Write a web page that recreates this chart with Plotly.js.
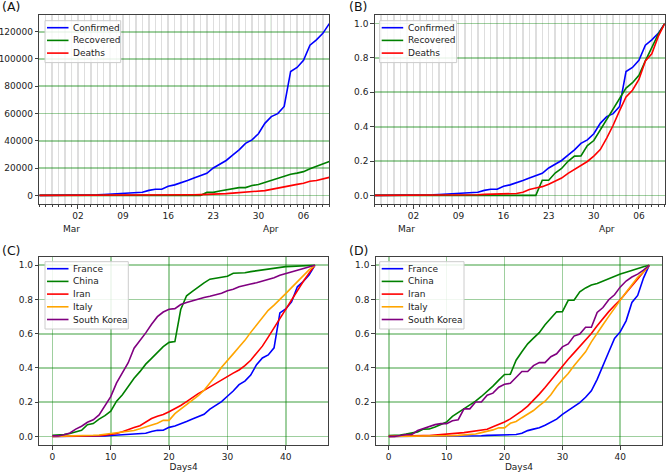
<!DOCTYPE html>
<html><head><meta charset="utf-8">
<script src="https://cdn.plot.ly/plotly-3.0.1.min.js"></script>
<style>html,body{margin:0;padding:0;background:#fff}#chart{width:667px;height:473px}</style>
</head><body><div id="chart"></div>
<script>
// ---------- data ----------
const startDate = '2020-02-25';           // France series, panels A/B
const seriesNames = ['Confirmed', 'Recovered', 'Deaths'];
const franceConfirmed = [14,18,38,57,100,130,191,204,288,380,656,959,1136,1219,1794,2293,2293,3681,4496,4532,6683,7715,9124,10970,12758,14463,16243,20123,22622,25600,29551,33402,38105,40708,45170,52827,57749,59929,65202,90848,93773,98963,110065,113959,118781,125931];
const franceRecovered = [11,11,11,11,12,12,12,12,12,12,12,12,12,12,12,12,12,12,12,12,12,12,12,12,12,12,2200,2207,3250,3907,4955,5707,5724,7226,7964,9513,11053,12548,14135,15572,16349,17428,19523,21452,23413,24932];
const franceDeaths = [2,2,2,2,2,2,3,4,4,6,9,11,19,19,33,48,48,79,91,91,148,148,148,243,450,562,674,860,1100,1331,1696,1995,2314,2606,3024,3523,4403,5387,6507,7560,8078,8911,10328,10869,12210,13197];

const countryNames = ['France', 'China', 'Iran', 'Italy', 'South Korea'];
const chinaConfirmed = [548,643,920,1406,2075,2877,5509,6087,8141,9802,11891,16630,19716,23707,27440,30587,34110,36814,39829,42354,44386,44759,59895,66358,68413,70513,72434,74211,74619,75077,75550,77001,77022,77241,77754,78166,78600,78928,79356,79932,80136,80261,80386,80537,80690,80770];
const chinaDeaths = [17,18,26,42,56,82,131,133,171,213,259,361,425,490,562,632,717,804,904,1011,1111,1116,1368,1520,1662,1765,1863,2004,2118,2236,2238,2443,2445,2595,2665,2717,2746,2790,2837,2872,2914,2947,2983,3015,3044,3072];
const iranConfirmed = [2,5,18,28,43,61,95,139,245,388,593,978,1501,2336,2922,3513,4747,5823,6566,7161,8042,9000,10075,11364,12729,13938,14991,16169,17361,18407,19644,20610,21638,23049,24811,27017,29406,32332,35408,38309,41495,44605,47593,50468,53183,55743];
const iranDeaths = [2,2,4,5,8,12,16,19,26,34,43,54,66,77,92,107,124,145,194,237,291,354,429,514,611,724,853,988,1135,1284,1433,1556,1685,1812,1934,2077,2234,2378,2517,2640,2757,2898,3036,3160,3294,3452];
const italyConfirmed = [20,62,155,229,322,453,655,888,1128,1694,2036,2502,3089,3858,4636,5883,7375,9172,10149,12462,12462,17660,21157,24747,27980,31506,35713,41035,47021,53578,59138,63927,69176,74386,80589,86498,92472,97689,101739,105792,110574,115242,119827,124632,128948,132547];
const italyDeaths = [1,2,3,7,10,12,17,21,29,34,52,79,107,148,197,233,366,463,631,827,827,1266,1441,1809,2158,2503,2978,3405,4032,4825,5476,6077,6820,7503,8165,9134,10023,10779,11591,12428,13155,13915,14681,15362,15887,16523];
const koreaConfirmed = [31,31,104,204,433,602,833,977,1261,1766,2337,3150,3736,4335,5186,5621,6088,6593,7041,7314,7478,7513,7755,7869,7979,8086,8162,8236,8320,8413,8565,8652,8799,8897,8961,9037,9137,9241,9332,9478,9583,9661,9786,9887,9976,10062];
const koreaDeaths = [0,0,1,2,2,6,8,10,12,13,13,16,17,28,28,35,35,42,44,50,53,54,60,66,66,72,75,75,81,84,91,94,102,104,111,111,126,131,139,144,152,158,162,165,169,174];

const weekTickVals = ['2020-03-02','2020-03-09','2020-03-16','2020-03-23','2020-03-30','2020-04-06'];
const weekTickText = ['02','09','16','23','30','06'];
const monthTickVals = ['2020-03-01','2020-04-01'];
const monthTickText = ['Mar','Apr'];
const countTickVals = [0,20000,40000,60000,80000,100000,120000];
const fracTickVals = [0,0.2,0.4,0.6,0.8,1.0];
const dayTickVals = [0,10,20,30,40];
const panelLabels = ['(A)','(B)','(C)','(D)'];
const xTitle = 'Days4';

// ---------- helpers ----------
const W = 667, H = 473;
const PX = x => x / W, PY = y => 1 - y / H;
function dateList(start, n){
  const out = []; const d0 = new Date(start + 'T00:00:00Z');
  for (let i = 0; i < n; i++){ const d = new Date(d0.getTime() + i*86400000); out.push(d.toISOString().slice(0,10)); }
  return out;
}
const norm = a => { const m = Math.max(...a); return a.map(v => v / m); };
const dates = dateList(startDate, franceConfirmed.length);
const days = franceConfirmed.map((_, i) => i);

const sColors = ['#0000ff', '#008000', '#ff0000'];
const cColors = ['#0000ff', '#008000', '#ff0000', '#ffa500', '#800080'];
const LW = 1.6;
const FONT = 'DejaVu Sans, sans-serif';
const FS = 9;
const gridGreen = 'rgba(0,128,0,0.38)';
const frameCol = '#404040';
const minorGray = '#dedede';

const franceSeries = [franceConfirmed, franceRecovered, franceDeaths];
const confirmedByCountry = [franceConfirmed, chinaConfirmed, iranConfirmed, italyConfirmed, koreaConfirmed];
const deathsByCountry = [franceDeaths, chinaDeaths, iranDeaths, italyDeaths, koreaDeaths];

const traces = [];
franceSeries.forEach((s, i) => traces.push({x: dates, y: s, xaxis: 'x', yaxis: 'y', mode: 'lines', line: {color: sColors[i], width: LW}, name: seriesNames[i], showlegend: false}));
franceSeries.forEach((s, i) => traces.push({x: dates, y: norm(s), xaxis: 'x2', yaxis: 'y2', mode: 'lines', line: {color: sColors[i], width: LW}, name: seriesNames[i], showlegend: false}));
confirmedByCountry.forEach((s, i) => traces.push({x: days, y: norm(s), xaxis: 'x3', yaxis: 'y3', mode: 'lines', line: {color: cColors[i], width: LW}, name: countryNames[i], showlegend: false}));
deathsByCountry.forEach((s, i) => traces.push({x: days, y: norm(s), xaxis: 'x4', yaxis: 'y4', mode: 'lines', line: {color: cColors[i], width: LW}, name: countryNames[i], showlegend: false}));

// domains in pixels
const dom = {
  A: {x: [39.3, 329.3], y: [15, 204]},
  B: {x: [374.7, 664.7], y: [15, 204]},
  C: {x: [39.3, 328], y: [256.7, 445]},
  D: {x: [375.7, 662.3], y: [256.7, 445]}
};
const xd = p => [PX(dom[p].x[0]), PX(dom[p].x[1])];
const yd = p => [PY(dom[p].y[1]), PY(dom[p].y[0])];

const baseAxis = {showline: true, mirror: true, linecolor: frameCol, linewidth: 1, zeroline: false,
  ticks: 'outside', ticklen: 3.5, tickwidth: 1, tickcolor: frameCol, tickfont: {family: FONT, size: FS, color: '#222'}};

function dateAxis(p, anchor){
  return Object.assign({}, baseAxis, {domain: xd(p), anchor: anchor, type: 'date',
    range: [dates[0], dates[dates.length-1]], tickmode: 'array', tickvals: weekTickVals, ticktext: weekTickText,
    showgrid: true, gridcolor: minorGray, gridwidth: 1.5,
    minor: {dtick: 86400000, tick0: startDate, showgrid: true, gridcolor: minorGray, gridwidth: 1.5, ticks: 'outside', ticklen: 2, tickcolor: frameCol}});
}
function fracAxis(p, anchor){
  return Object.assign({}, baseAxis, {domain: yd(p), anchor: anchor, range: [-0.05, 1.05], tickmode: 'array', tickvals: fracTickVals,
    tickformat: '.1f', showgrid: true, gridcolor: gridGreen, gridwidth: 1.7});
}
function dayAxis(p, anchor){
  return Object.assign({}, baseAxis, {domain: xd(p), anchor: anchor, range: [-2.25, 47.25], tickmode: 'array', tickvals: dayTickVals,
    showgrid: true, gridcolor: gridGreen, gridwidth: 1.7,
    title: {text: xTitle, font: {family: FONT, size: FS, color: '#222'}, standoff: 2}});
}

const layout = {
  width: W, height: H, margin: {l: 0, r: 0, t: 0, b: 0}, paper_bgcolor: '#fff', plot_bgcolor: '#fff', showlegend: false,
  font: {family: FONT, size: FS, color: '#222'},
  xaxis: dateAxis('A', 'y'),
  yaxis: Object.assign({}, baseAxis, {domain: yd('A'), anchor: 'x', range: [-6296.55, 132227.55], tickmode: 'array', tickvals: countTickVals,
    tickformat: 'd', showgrid: true, gridcolor: gridGreen, gridwidth: 1.7}),
  xaxis2: dateAxis('B', 'y2'),
  yaxis2: fracAxis('B', 'x2'),
  xaxis3: dayAxis('C', 'y3'),
  yaxis3: fracAxis('C', 'x3'),
  xaxis4: dayAxis('D', 'y4'),
  yaxis4: fracAxis('D', 'x4'),
  shapes: [], annotations: []
};

// month gridlines + labels for date panels
[['x', 'y', 'A'], ['x2', 'y2', 'B']].forEach(([xa, ya, p]) => {
  monthTickVals.forEach((v, i) => {
    layout.shapes.push({type: 'line', xref: xa, yref: ya + ' domain', x0: v, x1: v, y0: 0, y1: 1, layer: 'below',
      line: {color: 'rgba(0,128,0,0.5)', width: 1}});
    layout.annotations.push({text: monthTickText[i], xref: xa, yref: 'paper', x: v, y: PY(228.5), xanchor: 'center', yanchor: 'middle',
      showarrow: false, font: {family: FONT, size: FS, color: '#222'}});
  });
});

// panel labels
[[0, 7], [347, 7], [0, 250], [347, 250]].forEach(([x, y], i) => {
  layout.annotations.push({text: panelLabels[i], xref: 'paper', yref: 'paper', x: PX(x), y: PY(y), xanchor: 'left', yanchor: 'middle',
    showarrow: false, font: {family: FONT, size: 12.5, color: '#111'}});
});

// legends
function legend(x0, y0, names, colors, boxW){
  const rowH = 12.7, top = y0, n = names.length;
  const h = n * rowH + 3.8;
  layout.shapes.push({type: 'rect', xref: 'paper', yref: 'paper', x0: PX(x0), x1: PX(x0 + boxW), y0: PY(top), y1: PY(top + h),
    fillcolor: 'rgba(255,255,255,0.85)', line: {color: '#cccccc', width: 1}, layer: 'above'});
  names.forEach((nm, i) => {
    const cy = top + 7 + i * rowH;
    layout.shapes.push({type: 'line', xref: 'paper', yref: 'paper', x0: PX(x0 + 2), x1: PX(x0 + 23.5), y0: PY(cy), y1: PY(cy),
      line: {color: colors[i], width: LW}, layer: 'above'});
    layout.annotations.push({text: nm, xref: 'paper', yref: 'paper', x: PX(x0 + 26), y: PY(cy), xanchor: 'left', yanchor: 'middle',
      showarrow: false, font: {family: FONT, size: FS, color: '#222'}});
  });
}
legend(45, 20.7, seriesNames, sColors, 75.7);
legend(379.7, 20.7, seriesNames, sColors, 77);
legend(45, 261.7, countryNames, cColors, 83.3);
legend(379.7, 261.7, countryNames, cColors, 84.3);

Plotly.newPlot('chart', traces, layout, {displayModeBar: false, staticPlot: true});
</script>
</body></html>
